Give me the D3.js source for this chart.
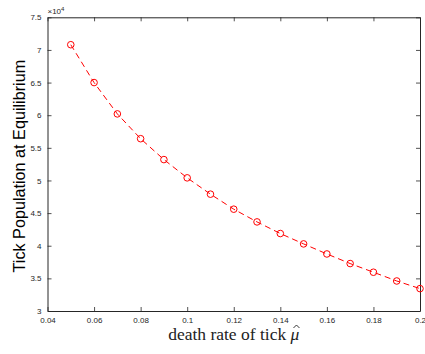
<!DOCTYPE html>
<html><head><meta charset="utf-8">
<script src="https://cdn.jsdelivr.net/npm/d3@7"></script>
<style>body{margin:0;background:#fff}svg{display:block}</style>
</head><body>
<svg id="c" width="425" height="354"></svg>
<script>
const deathRate = [0.05,0.06,0.07,0.08,0.09,0.10,0.11,0.12,0.13,0.14,0.15,0.16,0.17,0.18,0.19,0.20];
const population = [70800,65000,60200,56400,53200,50400,47900,45600,43650,41870,40280,38740,37270,35940,34600,33430];
const xTicks = [0.04,0.06,0.08,0.1,0.12,0.14,0.16,0.18,0.2];
const yTicks = [3,3.5,4,4.5,5,5.5,6,6.5,7,7.5];

const svg = d3.select('#c');
const L=47.5, R=420, T=17.3, B=311;
const x = d3.scaleLinear().domain([0.04,0.2]).range([L,R]);
const y = d3.scaleLinear().domain([3,7.5]).range([B,T]);
const axCol='#262626', font='Helvetica, Arial, "Liberation Sans", sans-serif';

const gx = svg.append('g').attr('transform',`translate(0,${B})`)
  .call(d3.axisBottom(x).tickValues(xTicks).tickSizeInner(-4).tickSizeOuter(0).tickPadding(6).tickFormat(d=>d3.format('')(+d.toFixed(2))));
const gxt = svg.append('g').attr('transform',`translate(0,${T})`)
  .call(d3.axisTop(x).tickValues(xTicks).tickSizeInner(-4).tickSizeOuter(0).tickFormat(''));
const gy = svg.append('g').attr('transform',`translate(${L},0)`)
  .call(d3.axisLeft(y).tickValues(yTicks).tickSizeInner(-4).tickSizeOuter(0).tickPadding(6).tickFormat(d=>d3.format('')(d)));
const gyr = svg.append('g').attr('transform',`translate(${R},0)`)
  .call(d3.axisRight(y).tickValues(yTicks).tickSizeInner(-4).tickSizeOuter(0).tickFormat(''));
[gx,gxt,gy,gyr].forEach(g=>{
  g.selectAll('path').attr('stroke',axCol).attr('stroke-width',1);
  g.selectAll('line').attr('stroke',axCol).attr('stroke-width',0.8);
  g.selectAll('text').attr('fill',axCol).attr('font-family',font).attr('font-size',8);
});

svg.append('text').attr('x',L).attr('y',T-3).attr('fill',axCol)
  .attr('font-family',font).attr('font-size',8).text('×10').append('tspan').attr('dy',-3).attr('font-size',6).text('4');

const line = d3.line().x((d,i)=>x(deathRate[i])).y(d=>y(d/1e4));
svg.append('path').datum(population).attr('d',line).attr('fill','none')
  .attr('stroke','#ff0000').attr('stroke-width',1).attr('stroke-dasharray','6,4');
svg.selectAll('circle.m').data(population).join('circle').attr('class','m')
  .attr('cx',(d,i)=>x(deathRate[i])).attr('cy',d=>y(d/1e4)).attr('r',3.3)
  .attr('fill','none').attr('stroke','#ff0000').attr('stroke-width',1);

svg.append('text').attr('transform',`translate(25,${(T+B)/2+2}) rotate(-90)`)
  .attr('text-anchor','middle').attr('font-family',font).attr('font-size',16.2).attr('fill','#000')
  .text('Tick Population at Equilibrium');

const serif='"Liberation Serif","DejaVu Serif",serif';
const prefix='death rate of tick ';
const xl = svg.append('text').attr('x',(L+R)/2).attr('y',340).attr('text-anchor','middle')
  .attr('font-family',serif).attr('font-size',17.5).attr('fill','#222');
xl.append('tspan').text(prefix);
xl.append('tspan').attr('font-style','italic').text('μ');
// hat over mu, drawn as a small stroke
const n = xl.node();
const total = n.getComputedTextLength();
const muStart = (L+R)/2 - total/2 + n.getSubStringLength(0, prefix.length);
const muW = n.getSubStringLength(prefix.length, 1);
const hx = muStart + muW/2 + 1.5, hy = 325;
svg.append('path').attr('d',`M${hx-3},${hy+3}L${hx},${hy}L${hx+3},${hy+3}`)
  .attr('fill','none').attr('stroke','#222').attr('stroke-width',0.9);
</script>
</body></html>
